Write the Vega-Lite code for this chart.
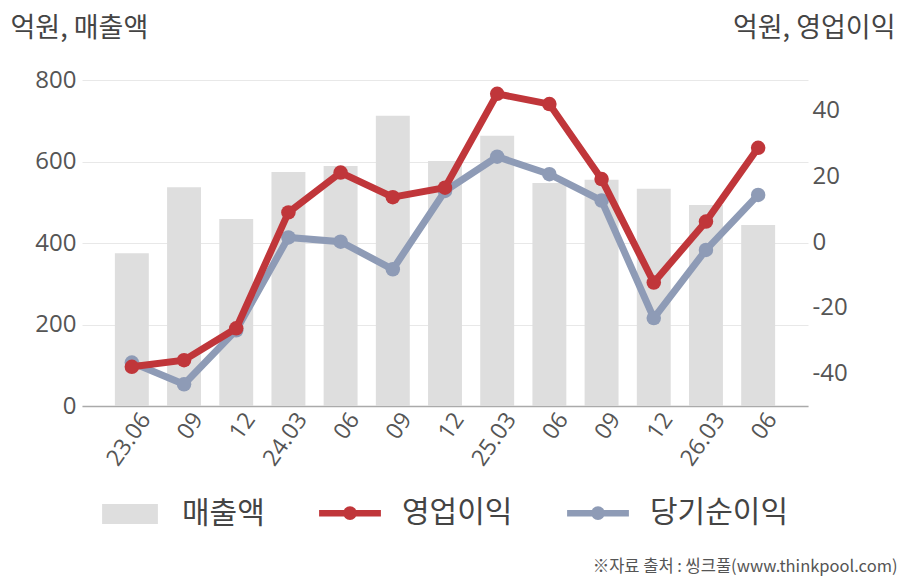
{
  "$schema": "https://vega.github.io/schema/vega-lite/v6.json",
  "autosize": {"type": "none"},
  "padding": {"left": 82, "top": 80, "right": 100, "bottom": 174},
  "width": 726,
  "height": 326,
  "background": "white",
  "config": {
    "view": {"stroke": null},
    "font": "Noto Sans CJK KR",
    "axis": {"labelFont": "Open Sans", "titleFont": "Noto Sans CJK KR", "labelColor": "#555", "titleColor": "#444"}
  },
  "data": {
    "values": [
      {"period": "23.06", "sales": 375, "op": -37.9, "net": -36.6},
      {"period": "23.09", "sales": 537, "op": -35.9, "net": -43.2},
      {"period": "23.12", "sales": 459, "op": -26.2, "net": -26.8},
      {"period": "24.03", "sales": 574, "op": 9.0, "net": 1.4},
      {"period": "24.06", "sales": 589, "op": 21.1, "net": 0.1},
      {"period": "24.09", "sales": 712, "op": 13.6, "net": -8.3},
      {"period": "24.12", "sales": 601, "op": 16.5, "net": 15.5},
      {"period": "25.03", "sales": 663, "op": 45.0, "net": 25.9},
      {"period": "25.06", "sales": 547, "op": 41.9, "net": 20.6},
      {"period": "25.09", "sales": 555, "op": 19.1, "net": 12.6},
      {"period": "25.12", "sales": 533, "op": -12.3, "net": -23.1},
      {"period": "26.03", "sales": 493, "op": 6.2, "net": -2.4},
      {"period": "26.06", "sales": 444, "op": 28.6, "net": 14.3}
    ]
  },
  "encoding": {
    "x": {
      "field": "period",
      "type": "ordinal",
      "sort": null,
      "scale": {"paddingInner": 0.35, "paddingOuter": 0.63},
      "axis": {
        "title": "※자료 출처 : 씽크풀(www.thinkpool.com)",
        "titleAngle": 0,
        "titleAlign": "right",
        "titleBaseline": "middle",
        "titleX": 815,
        "titleY": 160,
        "titleFontSize": 16.5,
        "titleFontWeight": "normal",
        "titleColor": "#555",
        "labelAngle": -55,
        "labelFontSize": 23,
        "labelPadding": 9,
        "labelOffset": 14,
        "ticks": false,
        "domainColor": "#aaaaaa",
        "domainWidth": 1.5,
        "labelExpr": "datum.value == '23.06' || slice(datum.value, 3) == '03' ? datum.value : slice(datum.value, 3)"
      }
    }
  },
  "layer": [
    {
      "mark": {"type": "bar", "color": "#dedede"},
      "encoding": {
        "y": {
          "field": "sales",
          "type": "quantitative",
          "scale": {"domain": [0, 800], "nice": false},
          "axis": {
            "title": "억원, 매출액",
            "titleAngle": 0,
            "titleAlign": "left",
            "titleBaseline": "middle",
            "titleX": -72,
            "titleY": -52,
            "titleFontSize": 27,
            "titleFontWeight": "normal",
            "values": [0, 200, 400, 600, 800],
            "labelFontSize": 24,
            "labelPadding": 6,
            "ticks": false,
            "domain": false,
            "grid": true,
            "gridColor": "#e8e8e8"
          }
        },
        "color": {
          "datum": "매출액",
          "scale": {
            "domain": ["매출액", "영업이익", "당기순이익"],
            "range": ["#dedede", "#c0363a", "#8e9bb6"]
          },
          "legend": {
            "title": null,
            "orient": "none",
            "direction": "horizontal",
            "legendX": 33,
            "legendY": 418,
            "symbolSize": 3600,
            "labelFontSize": 30,
            "labelFont": "Noto Sans CJK KR",
            "labelColor": "#444",
            "labelOffset": 37,
            "columnPadding": 41,
            "encode": {
              "symbols": {
                "update": {
                  "shape": {"signal": "datum.value === '매출액' ? 'M-0.93,-0.33H0.93V0.33H-0.93Z' : 'M-1.03,0H1.03M-0.12,0A0.12,0.12 0 1 0 0.12,0A0.12,0.12 0 1 0 -0.12,0Z'"},
                  "fill": {"signal": "datum.value === '매출액' ? '#dedede' : datum.value === '영업이익' ? '#c0363a' : '#8e9bb6'"},
                  "stroke": {"signal": "datum.value === '매출액' ? '#dedede' : datum.value === '영업이익' ? '#c0363a' : '#8e9bb6'"},
                  "strokeWidth": {"signal": "datum.value === '매출액' ? 0 : 6.5"},
                  "opacity": {"value": 1}
                }
              }
            }
          }
        }
      }
    },
    {
      "layer": [
        {
          "mark": {"type": "line", "strokeWidth": 7, "point": {"filled": true, "size": 210, "opacity": 1}},
          "encoding": {
            "y": {
              "field": "net",
              "type": "quantitative",
              "scale": {"domain": [-49.8, 49.2], "nice": false},
              "axis": {
                "orient": "right",
                "title": "억원, 영업이익",
                "titleAngle": 0,
                "titleAlign": "right",
                "titleBaseline": "middle",
                "titleX": 87,
                "titleY": -52,
                "titleFontSize": 27,
                "titleFontWeight": "normal",
                "values": [-40, -20, 0, 20, 40],
                "labelExpr": "datum.value + ''",
                "labelFontSize": 24,
                "labelPadding": 4,
                "ticks": false,
                "domain": false,
                "grid": false
              }
            },
            "color": {"datum": "당기순이익"}
          }
        },
        {
          "mark": {"type": "line", "strokeWidth": 7, "point": {"filled": true, "size": 210, "opacity": 1}},
          "encoding": {
            "y": {"field": "op", "type": "quantitative"},
            "color": {"datum": "영업이익"}
          }
        }
      ]
    }
  ],
  "resolve": {"scale": {"y": "independent"}}
}
